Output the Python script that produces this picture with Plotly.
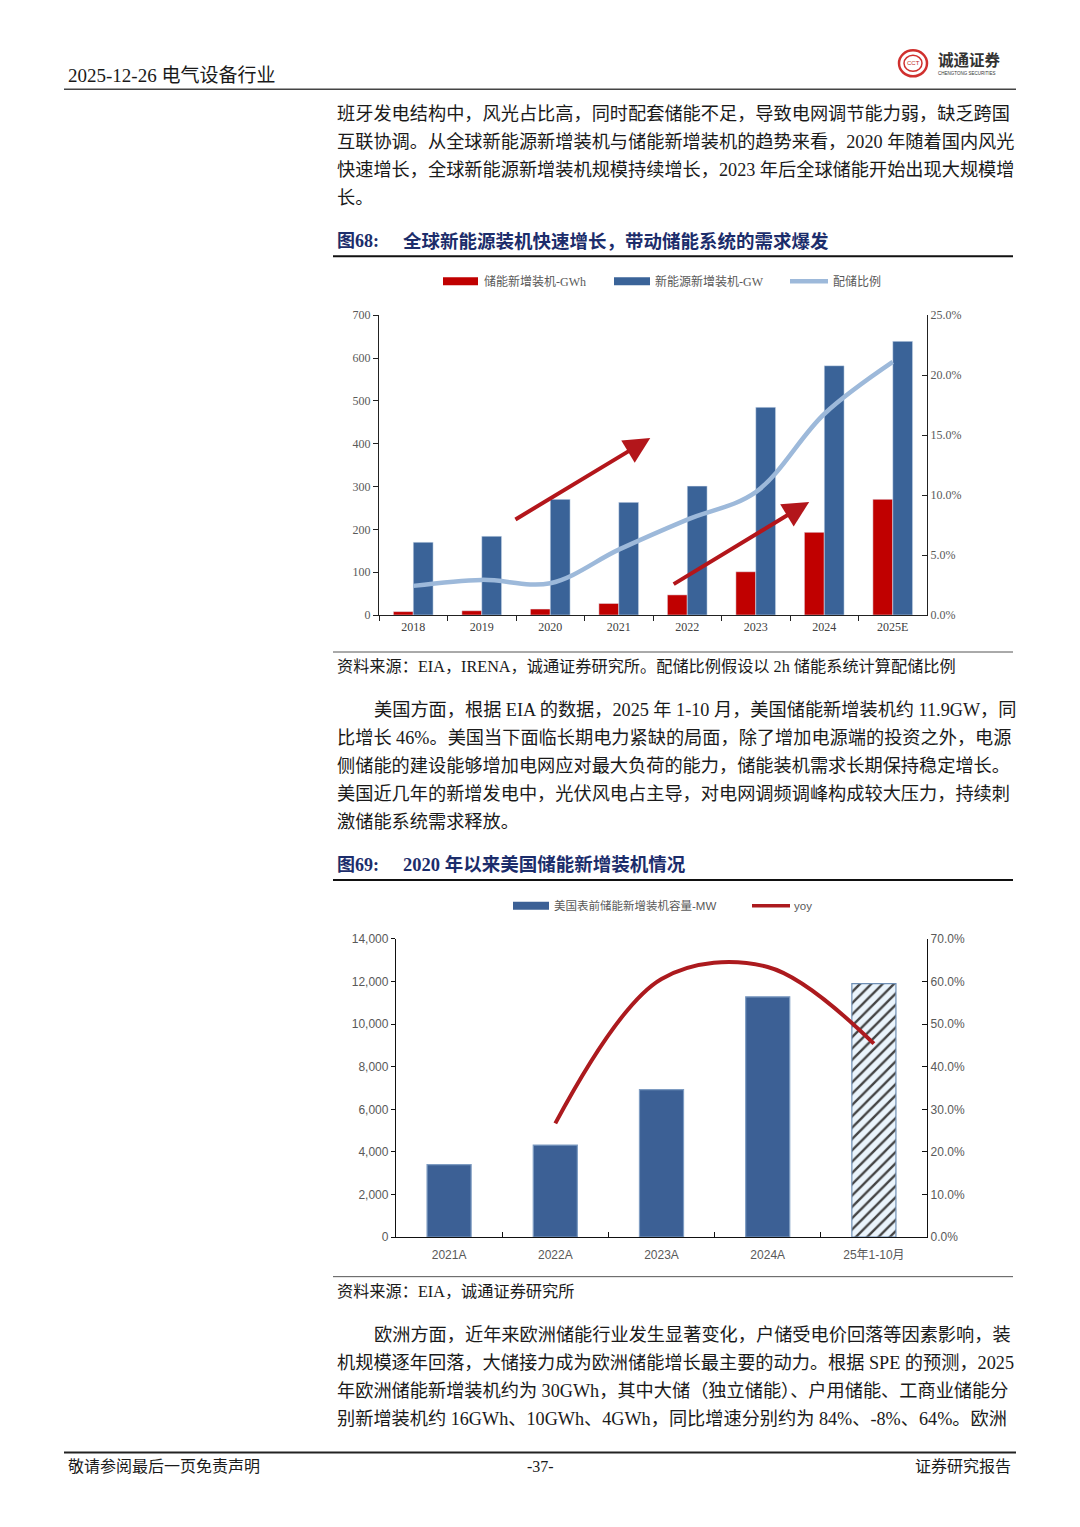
import plotly.graph_objects as go

# ---------------- data ----------------
years = ["2018", "2019", "2020", "2021", "2022", "2023", "2024", "2025E"]
storage_gwh = [8, 10, 14, 27, 47, 101, 193, 270]          # 储能新增装机-GWh
renew_gw = [170, 184, 270, 263, 301, 485, 582, 639]       # 新能源新增装机-GW
ratio_pct = [2.43, 2.93, 2.65, 5.45, 7.96, 10.25, 16.76, 21.1]  # 配储比例 (%)

us_cats = ["2021A", "2022A", "2023A", "2024A", "25年1-10月"]
us_mw = [3400, 4320, 6920, 11280, 11900]                  # 美国表前储能新增装机容量-MW
us_yoy_pct = [None, 26.7, 60.6, 63.4, 45.4]               # yoy (%)

# trend arrows on chart 1 (category index, value)
arrow1_tail, arrow1_head = (1.47, 221), (3.46, 413)
arrow2_tail, arrow2_head = (3.78, 70), (5.78, 264)

# ---------------- page helpers ----------------
W, H = 1080, 1527
SERIF = "Liberation Serif, Noto Sans CJK SC, serif"
SANS = "Liberation Sans Narrow, Liberation Sans, Noto Sans CJK SC, sans-serif"
TXT = "#1a1a1a"
NAVY = "#1c2d6b"
BODY = 18.2
# vertical calibration of the capture (page y -> picture y)
VA, VB = 0.99138, 5.64


def px(x):
    return x / W


def py(y):
    return 1 - ((y - VB) / VA) / H


annotations = []
shapes = []


def text(x, y, s, size=BODY, color=TXT, anchor="left", bold=False, family=SERIF):
    if bold:
        s = "<b>" + s + "</b>"
    annotations.append(dict(xref="paper", yref="paper", x=px(x), y=py(y), text=s,
                            showarrow=False, xanchor=anchor, yanchor="middle",
                            font=dict(size=size, color=color, family=family)))


def hline(x0, x1, y, color="#333333", width=1.0):
    shapes.append(dict(type="line", xref="paper", yref="paper", x0=px(x0), x1=px(x1),
                       y0=py(y), y1=py(y), line=dict(color=color, width=width)))


def rect(x0, x1, y0, y1, color):
    shapes.append(dict(type="rect", xref="paper", yref="paper", x0=px(x0), x1=px(x1),
                       y0=py(y1), y1=py(y0), fillcolor=color, line=dict(width=0)))


# ---------------- colours ----------------
RED = "#C00000"
BLUE = "#3A6398"
LBLUE = "#9DB9DA"
BLUE2 = "#3C6095"
DRED = "#AC1A1E"
HATCH_BG = "#EAF4FC"

fig = go.Figure()

# ---------------- chart 1 ----------------
fig.add_trace(go.Bar(x=years, y=storage_gwh, name="储能新增装机-GWh", marker_color=RED,
                     xaxis="x", yaxis="y", offsetgroup="a", showlegend=False))
fig.add_trace(go.Bar(x=years, y=renew_gw, name="新能源新增装机-GW", marker_color=BLUE,
                     xaxis="x", yaxis="y", offsetgroup="b", showlegend=False))
fig.add_trace(go.Scatter(x=years, y=[v / 100 for v in ratio_pct], name="配储比例", mode="lines",
                         line=dict(color=LBLUE, width=4.5, shape="spline", smoothing=1.0),
                         xaxis="x", yaxis="y2", showlegend=False))

for tail, head in [(arrow1_tail, arrow1_head), (arrow2_tail, arrow2_head)]:
    annotations.append(dict(xref="x", yref="y", axref="x", ayref="y",
                            x=head[0], y=head[1], ax=tail[0], ay=tail[1],
                            text="", showarrow=True, arrowhead=2, arrowsize=1.3,
                            arrowwidth=4, arrowcolor="#B3161B"))

# ---------------- chart 2 ----------------
fig.add_trace(go.Bar(x=us_cats, y=us_mw, name="美国表前储能新增装机容量-MW",
                     width=0.415, xaxis="x2", yaxis="y3", showlegend=False,
                     marker=dict(color=[BLUE2] * 4 + [HATCH_BG],
                                 line=dict(color=["#7E9CC2"] * 4 + ["#6F8FB5"], width=1.2),
                                 pattern=dict(shape=["", "", "", "", "/"], fillmode="overlay",
                                              fgcolor=BLUE2, fgopacity=1,
                                              size=8, solidity=0.3))))
fig.add_trace(go.Scatter(x=us_cats, y=[None if v is None else v / 100 for v in us_yoy_pct],
                         name="yoy", mode="lines",
                         line=dict(color=DRED, width=4, shape="spline", smoothing=1.0),
                         xaxis="x2", yaxis="y4", showlegend=False, connectgaps=False))

# ---------------- axes ----------------
c1x = [px(379), px(927)]
c1y = [py(614), py(314)]
c2x = [px(396), px(927)]
c2y = [py(1236.5), py(938)]

ax_common = dict(showgrid=False, zeroline=False, showline=True, linewidth=1.3)
fig.update_layout(
    xaxis=dict(domain=c1x, anchor="y", type="category", tickson="boundaries", ticks="outside",
               ticklen=5, tickcolor="#222", linecolor="#222",
               tickfont=dict(family=SERIF, size=12, color="#404040"), **ax_common),
    yaxis=dict(domain=c1y, anchor="x", range=[0, 700], dtick=100, ticks="outside", ticklen=5,
               tickcolor="#222", linecolor="#222",
               tickfont=dict(family=SERIF, size=12, color="#595959"), **ax_common),
    yaxis2=dict(overlaying="y", anchor="x", side="right", range=[0, 0.25], dtick=0.05,
                tickformat=".1%", ticks="inside", ticklen=5, tickcolor="#222", linecolor="#222",
                tickfont=dict(family=SERIF, size=12, color="#595959"), **ax_common),
    xaxis2=dict(domain=c2x, anchor="y3", type="category", tickson="boundaries", ticks="inside",
                ticklen=5, tickcolor="#111", linecolor="#111", ticklabelstandoff=6,
                tickfont=dict(family=SANS, size=12, color="#595959"), **ax_common),
    yaxis3=dict(domain=c2y, anchor="x2", range=[0, 14000], dtick=2000, tickformat=",",
                ticks="outside", ticklen=4, tickcolor="#111", linecolor="#111",
                tickfont=dict(family=SANS, size=12, color="#595959"), **ax_common),
    yaxis4=dict(overlaying="y3", anchor="x2", side="right", range=[0, 0.7], dtick=0.1,
                tickformat=".1%", ticks="inside", ticklen=5, tickcolor="#111", linecolor="#111",
                tickfont=dict(family=SANS, size=12, color="#595959"), **ax_common),
    barmode="group", bargap=0.42, bargroupgap=0,
)

# ---------------- legends (drawn) ----------------
rect(443, 478, 276, 284, RED)
text(482, 280, "储能新增装机-GWh", size=12, color="#595959")
rect(614, 650, 276, 284, BLUE)
text(653, 280, "新能源新增装机-GW", size=12, color="#595959")
hline(790, 828, 280, color=LBLUE, width=4.5)
text(831, 280, "配储比例", size=12, color="#595959")

rect(513, 549, 901, 909, BLUE2)
text(552, 905, "美国表前储能新增装机容量-MW", size=11.5, color="#595959", family=SANS)
hline(752, 790, 905, color=DRED, width=3.5)
text(792, 905, "yoy", size=11.5, color="#595959", family=SANS)

# ---------------- page furniture ----------------
text(66, 74, "2025-12-26 电气设备行业", size=19)
hline(64, 1016, 88, color="#444444", width=1.5)
# logo
shapes.append(dict(type="circle", xref="paper", yref="paper", x0=px(899), x1=px(927),
                   y0=py(75), y1=py(49), line=dict(color="#D0302E", width=2.5),
                   fillcolor="white"))
shapes.append(dict(type="circle", xref="paper", yref="paper", x0=px(904), x1=px(922),
                   y0=py(70), y1=py(54), line=dict(color="#D0302E", width=1.5),
                   fillcolor="white"))
text(913, 62, "CCT", size=6, color="#C02A28", anchor="center", family="Liberation Sans")
text(936, 59, "诚通证券", size=15.5, color="#333333", bold=True)
text(936, 72, "CHENGTONG SECURITIES", size=4.5, color="#333333", family="Liberation Sans")

para1 = [
    "班牙发电结构中，风光占比高，同时配套储能不足，导致电网调节能力弱，缺乏跨国",
    "互联协调。从全球新能源新增装机与储能新增装机的趋势来看，2020 年随着国内风光",
    "快速增长，全球新能源新增装机规模持续增长，2023 年后全球储能开始出现大规模增",
    "长。",
]
for i, s in enumerate(para1):
    text(335, 113 + 28 * i, s)

text(335, 240, "图68:", size=18, color=NAVY, bold=True)
text(401, 240, "全球新能源装机快速增长，带动储能系统的需求爆发", size=18.5, color=NAVY, bold=True)
hline(333, 1013, 255, color="#111111", width=2)

hline(333, 1013, 651, color="#555555", width=1)
text(335, 666, "资料来源：EIA，IRENA，诚通证券研究所。配储比例假设以 2h 储能系统计算配储比例", size=16.2)

para2 = [
    "美国方面，根据 EIA 的数据，2025 年 1-10 月，美国储能新增装机约 11.9GW，同",
    "比增长 46%。美国当下面临长期电力紧缺的局面，除了增加电源端的投资之外，电源",
    "侧储能的建设能够增加电网应对最大负荷的能力，储能装机需求长期保持稳定增长。",
    "美国近几年的新增发电中，光伏风电占主导，对电网调频调峰构成较大压力，持续刺",
    "激储能系统需求释放。",
]
for i, s in enumerate(para2):
    text(372 if i == 0 else 335, 709 + 28 * i, s)

text(335, 864, "图69:", size=18, color=NAVY, bold=True)
text(401, 864, "2020 年以来美国储能新增装机情况", size=18.5, color=NAVY, bold=True)
hline(333, 1013, 879, color="#111111", width=2)

hline(333, 1013, 1276, color="#555555", width=1)
text(335, 1291, "资料来源：EIA，诚通证券研究所", size=16.2)

para3 = [
    "欧洲方面，近年来欧洲储能行业发生显著变化，户储受电价回落等因素影响，装",
    "机规模逐年回落，大储接力成为欧洲储能增长最主要的动力。根据 SPE 的预测，2025",
    "年欧洲储能新增装机约为 30GWh，其中大储（独立储能）、户用储能、工商业储能分",
    "别新增装机约 16GWh、10GWh、4GWh，同比增速分别约为 84%、-8%、64%。欧洲",
]
for i, s in enumerate(para3):
    text(372 if i == 0 else 335, 1334 + 28 * i, s)

hline(64, 1016, 1452, color="#222222", width=2)
text(66, 1466, "敬请参阅最后一页免责声明", size=16)
text(540, 1466, "-37-", size=16, anchor="center")
text(1013, 1466, "证券研究报告", size=16, anchor="right")

fig.update_layout(
    width=W, height=H, margin=dict(l=0, r=0, t=0, b=0),
    paper_bgcolor="white", plot_bgcolor="white",
    annotations=annotations, shapes=shapes, showlegend=False,
)

fig.write_html(
    "out.html",
    config={"displayModeBar": False},
    post_script="document.body.style.margin='0';document.documentElement.style.overflow='hidden';",
)
